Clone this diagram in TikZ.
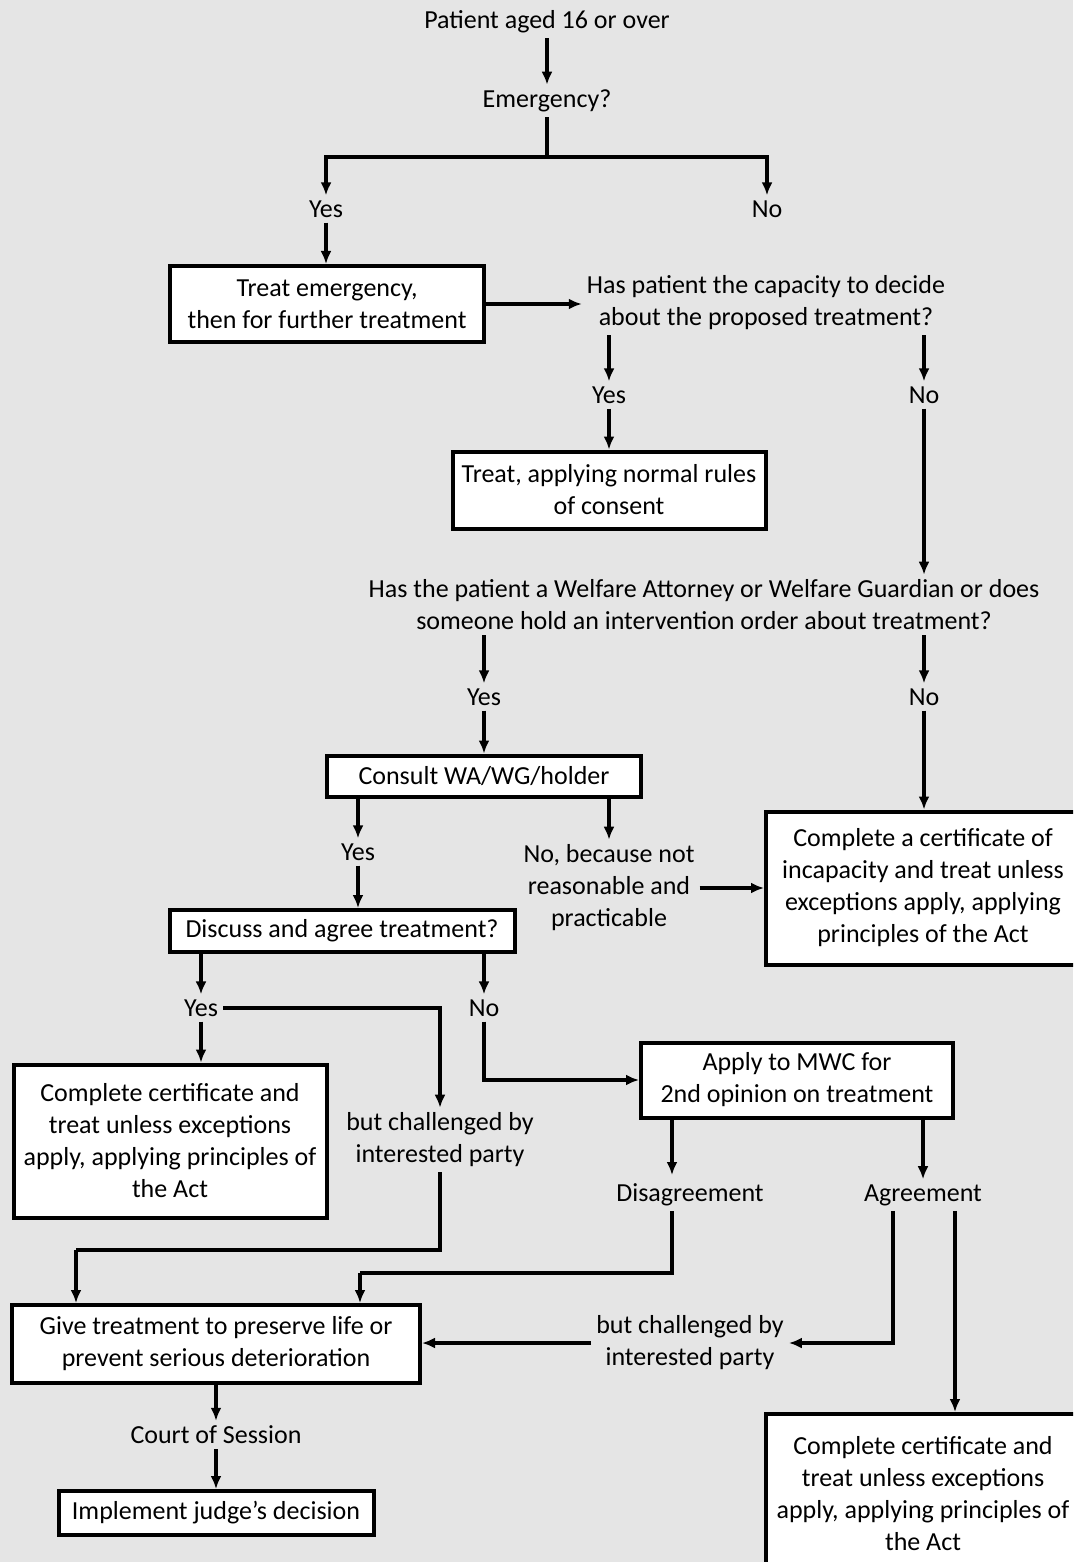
\documentclass[tikz,border=0pt]{standalone}
\usepackage{fontspec}
\setmainfont{Carlito}
\usetikzlibrary{arrows.meta, positioning, calc}

\tikzset{
  txt/.style = {align=center, inner sep=5pt, font=\fontsize{26}{32}\selectfont},
  box/.style = {txt, draw, fill=white, line width=4pt},
  line/.style = {draw, line width=4pt, -{Latex[length=13pt,width=11pt]}},
  plain/.style = {draw, line width=4pt}
}

\begin{document}
\begin{tikzpicture}[x=1pt, y=-1pt]
  \fill[gray!20] (0,0) rectangle (1073,1562);
  \clip (0,0) rectangle (1073,1562);
  \useasboundingbox (0,0) rectangle (1073,1562);

  % question chain at the top
  \node [txt] (patient) at (547,22) {Patient aged 16 or over};
  \node [txt] (emerg) at (547,101) {Emergency?};
  \node [txt] (yes1) at (326,209) {Yes};
  \node [txt] (no1) at (767,209) {No};
  \node [box, minimum width=314, minimum height=76] (treatem) at (327,304) {Treat emergency,\\then for further treatment};
  \node [txt] (cap) at (766,303) {Has patient the capacity to decide\\about the proposed treatment?};
  \node [txt] (yes2) at (609,395) {Yes};
  \node [txt] (no2) at (924,395) {No};
  \node [box, minimum width=313, minimum height=77] (normal) at (609,490) {Treat, applying normal rules\\of consent};
  \node [txt] (welfare) at (704,605) {Has the patient a Welfare Attorney or Welfare Guardian or does\\someone hold an intervention order about treatment?};
  \node [txt] (yes3) at (484,697) {Yes};
  \node [txt] (no3) at (924,697) {No};
  \node [box, minimum width=314, minimum height=41] (consult) at (484,776) {Consult WA/WG/holder};
  \node [box, minimum width=314, minimum height=153] (certa) at (923,888) {Complete a certificate of\\incapacity and treat unless\\exceptions apply, applying\\principles of the Act};
  \node [txt] (yes4) at (358,852) {Yes};
  \node [txt] (nobec) at (609,888) {No, because not\\reasonable and\\practicable};
  \node [box, minimum width=345, minimum height=42] (discuss) at (342,931) {Discuss and agree treatment?};
  \node [txt] (yes5) at (201,1008) {Yes};
  \node [txt] (no5) at (484,1008) {No};
  \node [box, minimum width=313, minimum height=153] (certb) at (170,1141) {Complete certificate and\\treat unless exceptions\\apply, applying principles of\\the Act};
  \node [txt] (chal1) at (440,1140) {but challenged by\\interested party};
  \node [box, minimum width=312, minimum height=75] (mwc) at (797,1080) {Apply to MWC for\\2nd opinion on treatment};
  \node [txt] (disag) at (690,1195) {Disagreement};
  \node [txt] (agree) at (923,1195) {Agreement};
  \node [box, minimum width=408, minimum height=78] (give) at (216,1344) {Give treatment to preserve life or\\prevent serious deterioration};
  \node [txt] (chal2) at (690,1343) {but challenged by\\interested party};
  \node [box, minimum width=314, minimum height=160] (certc) at (923,1494) {Complete certificate and\\treat unless exceptions\\apply, applying principles of\\the Act};
  \node [txt] (court) at (216,1435) {Court of Session};
  \node [box, minimum width=315, minimum height=44] (judge) at (216,1513) {Implement judge's decision};

  \coordinate (split1) at (547,157);
  \coordinate (disagin) at (672,1175);
  \coordinate (bend1) at (76,1250);
  \coordinate (bend2) at (360,1273);
  \coordinate (agl) at (893,1195);
  \coordinate (agr) at (955,1195);

  % connectors
  \path [line] (patient) -- (emerg);
  \path [plain] (emerg) -- (split1);
  \path [line] (split1) -| (yes1);
  \path [line] (split1) -| (no1);
  \path [line] (yes1) -- (yes1 |- treatem.north);
  \path [line] (treatem) -- (treatem -| cap.west);
  \path [line] (cap.south -| yes2) -- (yes2);
  \path [line] (cap.south -| no2) -- (no2);
  \path [line] (yes2) -- (yes2 |- normal.north);
  \path [line] (no2) -- (no2 |- welfare.north);
  \path [line] (welfare.south -| yes3) -- (yes3);
  \path [line] (welfare.south -| no3) -- (no3);
  \path [line] (yes3) -- (yes3 |- consult.north);
  \path [line] (no3) -- (no3 |- certa.north);
  \path [line] (consult.south -| yes4) -- (yes4);
  \path [line] (consult.south -| nobec) -- (nobec);
  \path [line] (nobec) -- (nobec -| certa.west);
  \path [line] (yes4) -- (yes4 |- discuss.north);
  \path [line] (discuss.south -| yes5) -- (yes5);
  \path [line] (discuss.south -| no5) -- (no5);
  \path [line] (yes5) -- (yes5 |- certb.north);
  \path [line] (yes5) -| (chal1);
  \path [line] (no5) |- (mwc);
  \path [line] (disagin |- mwc.south) -- (disagin);
  \path [line] (mwc.south -| agree) -- (agree);
  \path [plain] (chal1) |- (bend1);
  \path [line] (bend1) -- (bend1 |- give.north);
  \path [plain] (disagin |- disag.south) |- (bend2);
  \path [line] (bend2) -- (bend2 |- give.north);
  \path [line] (agl |- agree.south) |- (chal2);
  \path [line] (chal2) -- (chal2 -| give.east);
  \path [line] (agr |- agree.south) -- (agr |- certc.north);
  \path [line] (give) -- (court);
  \path [line] (court) -- (judge);
\end{tikzpicture}
\end{document}
